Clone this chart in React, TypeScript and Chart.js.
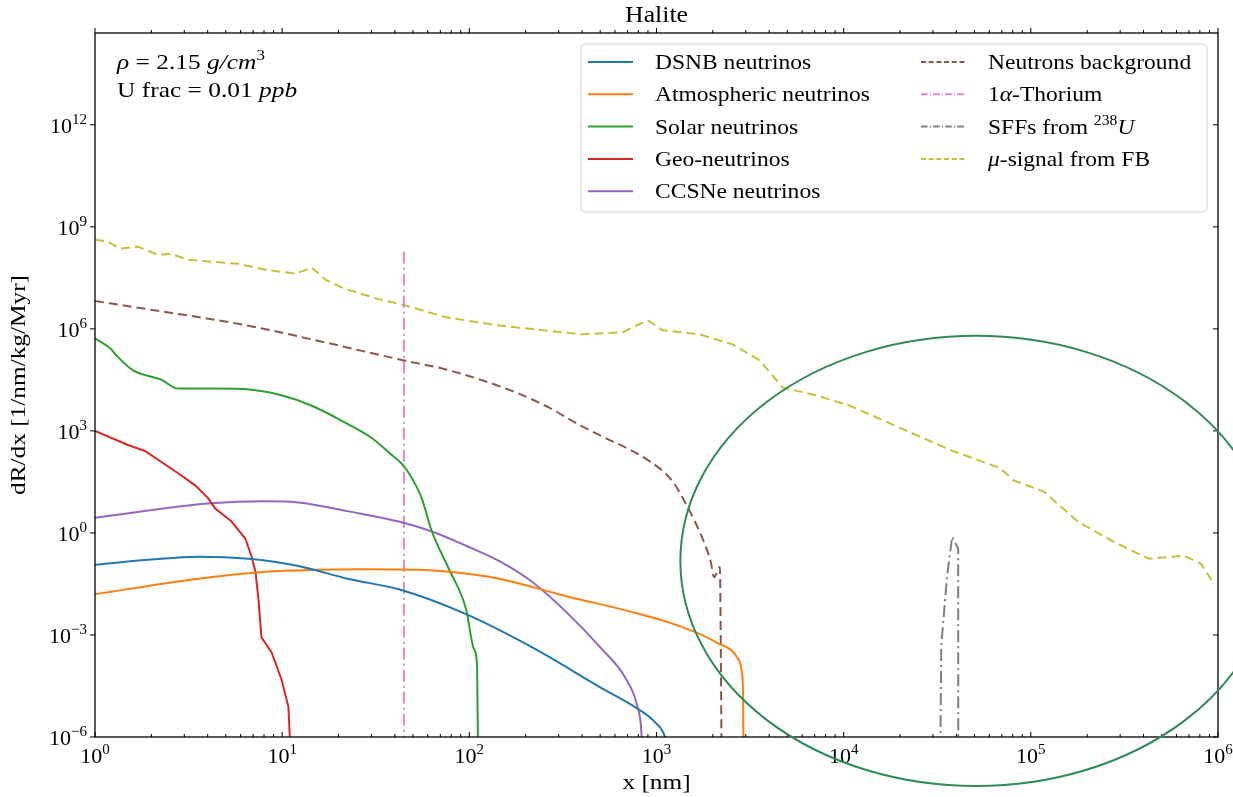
import React, { useEffect, useRef } from 'react';
import { Chart, registerables } from 'chart.js';

Chart.register(...registerables);

const FONT = '"Liberation Serif", "DejaVu Serif", serif';

// Axis ranges
const X_MIN = 1;
const X_MAX = 1e6;
const Y_MIN = 1e-6;
const Y_MAX = 5e14;

// Tick labels (powers of ten)
const xTickValues = [1, 10, 100, 1e3, 1e4, 1e5, 1e6];
const xTickExponents = ['0', '1', '2', '3', '4', '5', '6'];
const yTickValues = [1e-6, 1e-3, 1, 1e3, 1e6, 1e9, 1e12];
const yTickExponents = ['\u22126', '\u22123', '0', '3', '6', '9', '12'];

// DSNB neutrinos
const dsnbX = [1, 2, 3.56, 6.6, 12.2, 22.7, 42, 96, 217, 495, 811, 977, 1110, 1140];
const dsnbY = [0.115, 0.165, 0.2, 0.174, 0.107, 0.044, 0.022, 4.1e-3, 4.3e-4, 3.0e-5, 6.3e-6, 2.8e-6, 1e-6, 5e-7];

// Atmospheric neutrinos
const atmX = [1, 3.56, 8.14, 15.1, 27, 53.8, 77.8, 144, 330, 743, 1378, 2096, 2683, 2860, 2900, 2925];
const atmY = [0.0158, 0.045, 0.072, 0.082, 0.085, 0.082, 0.072, 0.045, 0.0138, 4.7e-3, 1.7e-3, 6.0e-4, 2.3e-4, 8e-5, 2e-5, 1e-7];

// Solar neutrinos
const solarX = [1, 1.22, 1.3, 1.6, 2.26, 2.78, 4.18, 6.85, 9.56, 14.4, 21.8, 30.1, 38.5, 44.7, 51.8, 55.7, 63.1, 77.8, 96, 106, 110, 111.5];
const solarY = [5.3e5, 2.5e5, 1.66e5, 6.0e4, 3.2e4, 1.75e4, 1.75e4, 1.63e4, 1.17e4, 5.5e3, 1.73e3, 620, 195, 92, 25, 10.4, 1.1, 0.087, 5.8e-3, 3.8e-4, 1.2e-4, 1e-7];

// Geo-neutrinos
const geoX = [1, 1.5, 1.85, 2.78, 3.43, 4.03, 4.39, 5.35, 6.36, 6.85, 7.2, 7.47, 7.75, 8.77, 9.92, 10.8, 11.2];
const geoY = [1000, 385, 256, 57, 25, 10.4, 5.2, 2.2, 0.68, 0.21, 0.072, 0.0114, 8.5e-4, 3.1e-4, 4.9e-5, 7.7e-6, 1e-7];

// CCSNe neutrinos
const ccsnX = [1, 4.18, 8.14, 12.2, 22.7, 42, 63.1, 96, 144, 217, 330, 495, 690, 791, 831, 845];
const ccsnY = [2.8, 7.4, 8.5, 7.9, 4.3, 2.16, 1.1, 0.42, 0.15, 0.036, 4.7e-3, 4.6e-4, 4.9e-5, 7.7e-6, 1.3e-6, 1e-7];

// Neutrons background
const neutronX = [1, 1.9, 6.36, 14.4, 44.7, 75, 169, 267, 387, 495, 917, 1218, 1448, 1763, 1950, 2030, 2180, 2230];
const neutronY = [6.6e6, 3.8e6, 1.29e6, 4.9e5, 1.18e5, 6.4e4, 1.5e4, 4.8e3, 1.5e3, 760, 129, 33, 6.5, 0.68, 0.14, 0.05, 0.1, 1e-7];

// 1α-Thorium
const thoriumX = [44.7, 44.7];
const thoriumY = [1.86e8, 1e-7];

// SFFs from 238U
const sffX = [32800, 33200, 35700, 38000, 39500, 40900, 40950];
const sffY = [1e-7, 4.6e-4, 0.055, 0.78, 0.5, 0.35, 1e-7];

// μ-signal from FB
const muX = [1, 1.17, 1.36, 1.7, 2.17, 2.55, 3.15, 5.83, 8.14, 11.8, 14.4, 17.1, 21.8, 32.8, 44.7, 75, 139, 401, 657, 895, 1077, 1700, 2550, 3560, 4730, 7200, 10800, 20000, 37100, 68800, 80700, 117000, 178000, 277000, 427000, 658000, 811000, 940000];
const muY = [4.2e8, 3.7e8, 2.3e8, 2.6e8, 1.5e8, 1.6e8, 1.07e8, 8.2e7, 5.5e7, 4.2e7, 6.3e7, 2.75e7, 1.48e7, 7.5e6, 5.0e6, 2.2e6, 1.29e6, 6.9e5, 7.9e5, 1.8e6, 9.1e5, 6.9e5, 3.5e5, 1.18e5, 1.87e4, 1.1e4, 5.5e3, 1.23e3, 275, 80, 35, 16.7, 2.16, 0.55, 0.174, 0.214, 0.123, 0.036];

// Highlight ring: centre in data units, radii in decades
const ringCenterX = 5.1e4;
const ringCenterY = 0.15;
const ringRadiusXDecades = 1.58;
const ringRadiusYDecades = 6.62;

const DASHED = [9, 5];
const DASH_DOT = [12, 4, 2, 4];

type Seg = { t: string; it?: boolean; sup?: boolean };

const pts = (xs: number[], ys: number[]) => xs.map((x, i) => ({ x, y: ys[i] }));

const series = [
  { label: 'DSNB neutrinos', xs: dsnbX, ys: dsnbY, color: '#1f77b4', dash: [] as number[], smooth: true },
  { label: 'Atmospheric neutrinos', xs: atmX, ys: atmY, color: '#ff7f0e', dash: [] as number[], smooth: true },
  { label: 'Solar neutrinos', xs: solarX, ys: solarY, color: '#2ca02c', dash: [] as number[], smooth: true },
  { label: 'Geo-neutrinos', xs: geoX, ys: geoY, color: '#d62728', dash: [] as number[], smooth: false },
  { label: 'CCSNe neutrinos', xs: ccsnX, ys: ccsnY, color: '#9467bd', dash: [] as number[], smooth: true },
  { label: 'Neutrons background', xs: neutronX, ys: neutronY, color: '#8c564b', dash: DASHED, smooth: true },
  { label: '1α-Thorium', xs: thoriumX, ys: thoriumY, color: 'rgba(227,119,194,0.9)', dash: DASH_DOT, smooth: false },
  { label: 'SFFs from 238U', xs: sffX, ys: sffY, color: '#7f7f7f', dash: DASH_DOT, smooth: false },
  { label: 'μ-signal from FB', xs: muX, ys: muY, color: 'rgba(188,189,34,0.9)', dash: DASHED, smooth: false },
];

const legendText: Seg[][] = [
  [{ t: 'DSNB neutrinos' }],
  [{ t: 'Atmospheric neutrinos' }],
  [{ t: 'Solar neutrinos' }],
  [{ t: 'Geo-neutrinos' }],
  [{ t: 'CCSNe neutrinos' }],
  [{ t: 'Neutrons background' }],
  [{ t: '1' }, { t: 'α', it: true }, { t: '-Thorium' }],
  [{ t: 'SFFs from ' }, { t: '238', sup: true }, { t: 'U', it: true }],
  [{ t: 'μ', it: true }, { t: '-signal from FB' }],
];

const noteLines: Seg[][] = [
  [{ t: 'ρ', it: true }, { t: ' = 2.15 ' }, { t: 'g/cm', it: true }, { t: '3', sup: true }],
  [{ t: 'U frac = 0.01 ' }, { t: 'ppb', it: true }],
];

function fontFor(s: Seg, size: number) {
  const px = s.sup ? Math.round(size * 0.68) : size;
  return `${s.it ? 'italic ' : ''}${px}px ${FONT}`;
}

function richWidth(ctx: CanvasRenderingContext2D, segs: Seg[], size: number, stretch: number) {
  let w = 0;
  for (const s of segs) {
    ctx.font = fontFor(s, size);
    w += ctx.measureText(s.t).width * stretch;
  }
  return w;
}

function drawRich(
  ctx: CanvasRenderingContext2D,
  segs: Seg[],
  x: number,
  y: number,
  size: number,
  align: 'left' | 'center' | 'right',
  stretch = 1,
) {
  const w = richWidth(ctx, segs, size, stretch);
  let cx = align === 'left' ? x : align === 'center' ? x - w / 2 : x - w;
  ctx.textAlign = 'left';
  ctx.textBaseline = 'alphabetic';
  for (const s of segs) {
    ctx.font = fontFor(s, size);
    const mw = ctx.measureText(s.t).width;
    ctx.save();
    ctx.translate(cx, y + (s.sup ? -size * 0.42 : 0));
    ctx.scale(stretch, 1);
    ctx.fillText(s.t, 0, 0);
    ctx.restore();
    cx += mw * stretch;
  }
}

function seg(ctx: CanvasRenderingContext2D, x1: number, y1: number, x2: number, y2: number) {
  ctx.beginPath();
  ctx.moveTo(x1, y1);
  ctx.lineTo(x2, y2);
  ctx.stroke();
}

const overlay = {
  id: 'haliteOverlay',
  afterDatasetsDraw(chart: any) {
    const { ctx, chartArea: a, scales } = chart;
    const xs = scales.x;
    const ys = scales.y;
    ctx.save();
    ctx.fillStyle = '#000';
    ctx.strokeStyle = '#000';

    // Frame
    ctx.lineWidth = 1.3;
    ctx.strokeRect(a.left, a.top, a.right - a.left, a.bottom - a.top);

    // X ticks: majors and minors on bottom and top
    ctx.lineWidth = 1;
    for (let e = 0; e < 6; e++) {
      for (let k = 1; k <= 9; k++) {
        const px = xs.getPixelForValue(k * Math.pow(10, e));
        const len = k === 1 ? 5 : 3;
        seg(ctx, px, a.bottom, px, a.bottom - len);
        seg(ctx, px, a.top, px, a.top - len);
      }
    }
    const pxEnd = xs.getPixelForValue(X_MAX);
    seg(ctx, pxEnd, a.bottom, pxEnd, a.bottom - 5);
    seg(ctx, pxEnd, a.top, pxEnd, a.top - 5);

    // Y ticks: majors on left and right
    for (const v of yTickValues) {
      const py = ys.getPixelForValue(v);
      seg(ctx, a.left, py, a.left - 5, py);
      seg(ctx, a.right, py, a.right - 5, py);
    }

    // X tick labels
    xTickValues.forEach((v, i) => {
      const px = xs.getPixelForValue(v);
      drawRich(ctx, [{ t: '10' }, { t: xTickExponents[i], sup: true }], px, a.bottom + 26, 22, 'center');
    });

    // Y tick labels
    yTickValues.forEach((v, i) => {
      const py = ys.getPixelForValue(v);
      drawRich(ctx, [{ t: '10' }, { t: yTickExponents[i], sup: true }], a.left - 8, py + 8, 22, 'right');
    });

    // Title and axis labels
    const midX = (a.left + a.right) / 2;
    drawRich(ctx, [{ t: 'Halite' }], midX, a.top - 11, 23, 'center', 1.12);
    drawRich(ctx, [{ t: 'x [nm]' }], midX, a.bottom + 52, 22, 'center', 1.15);
    ctx.save();
    ctx.translate(a.left - 70, (a.top + a.bottom) / 2);
    ctx.rotate(-Math.PI / 2);
    drawRich(ctx, [{ t: 'dR/dx [1/nm/kg/Myr]' }], 0, 0, 22, 'center', 1.15);
    ctx.restore();

    // Material note, upper left
    noteLines.forEach((line, i) => {
      drawRich(ctx, line, a.left + 22, a.top + 36 + i * 28, 21, 'left', 1.21);
    });

    ctx.restore();
  },
  afterDraw(chart: any) {
    const { ctx, scales } = chart;
    const xs = scales.x;
    const ys = scales.y;
    ctx.save();

    // Legend box
    const bx = 581, by = 44, bw = 626, bh = 168, r = 4;
    ctx.beginPath();
    ctx.moveTo(bx + r, by);
    ctx.arcTo(bx + bw, by, bx + bw, by + bh, r);
    ctx.arcTo(bx + bw, by + bh, bx, by + bh, r);
    ctx.arcTo(bx, by + bh, bx, by, r);
    ctx.arcTo(bx, by, bx + bw, by, r);
    ctx.closePath();
    ctx.fillStyle = 'rgba(255,255,255,0.85)';
    ctx.fill();
    ctx.strokeStyle = '#d4d4d4';
    ctx.lineWidth = 1;
    ctx.stroke();

    const cols = [
      { sx1: 588, sx2: 633, tx: 655 },
      { sx1: 921, sx2: 965, tx: 988 },
    ];
    series.forEach((s, i) => {
      const col = i < 5 ? cols[0] : cols[1];
      const row = i < 5 ? i : i - 5;
      const cy = 62 + row * 32.3;
      ctx.strokeStyle = s.color;
      ctx.lineWidth = 2;
      ctx.setLineDash(s.dash.map((d) => d * 0.55));
      seg(ctx, col.sx1, cy, col.sx2, cy);
      ctx.setLineDash([]);
      ctx.fillStyle = '#000';
      drawRich(ctx, legendText[i], col.tx, cy + 7, 21, 'left', 1.12);
    });

    // Highlight ring around the high-x region
    const cx = xs.getPixelForValue(ringCenterX);
    const cy = ys.getPixelForValue(ringCenterY);
    const rx = xs.getPixelForValue(ringCenterX * Math.pow(10, ringRadiusXDecades)) - cx;
    const ry = cy - ys.getPixelForValue(ringCenterY * Math.pow(10, ringRadiusYDecades));
    ctx.beginPath();
    ctx.ellipse(cx, cy, rx, ry, 0, 0, Math.PI * 2);
    ctx.strokeStyle = '#2e8b57';
    ctx.lineWidth = 2;
    ctx.stroke();

    ctx.restore();
  },
};

export default function App() {
  const canvasRef = useRef<HTMLCanvasElement>(null);

  useEffect(() => {
    const canvas = canvasRef.current;
    if (!canvas) return;
    const datasets = series.map((s, i) => ({
      label: s.label,
      data: pts(s.xs, s.ys),
      borderColor: s.color,
      backgroundColor: s.color,
      borderWidth: 2,
      borderDash: s.dash,
      pointRadius: 0,
      fill: false,
      cubicInterpolationMode: s.smooth ? ('monotone' as const) : ('default' as const),
      tension: 0,
      order: i,
    }));
    const chart = new Chart(canvas, {
      type: 'line',
      data: { datasets },
      options: {
        responsive: false,
        animation: false,
        events: [],
        layout: { padding: { left: 95, right: 15, top: 33, bottom: 60 } },
        scales: {
          x: { type: 'logarithmic', min: X_MIN, max: X_MAX, display: false },
          y: { type: 'logarithmic', min: Y_MIN, max: Y_MAX, display: false },
        },
        plugins: {
          legend: { display: false },
          tooltip: { enabled: false },
          title: { display: false },
        },
      },
      plugins: [overlay],
    });
    return () => chart.destroy();
  }, []);

  return (
    <div style={{ position: 'fixed', left: 0, top: 0, width: 1233, height: 797, background: '#fff' }}>
      <canvas ref={canvasRef} width={1233} height={797} style={{ display: 'block' }} />
    </div>
  );
}
